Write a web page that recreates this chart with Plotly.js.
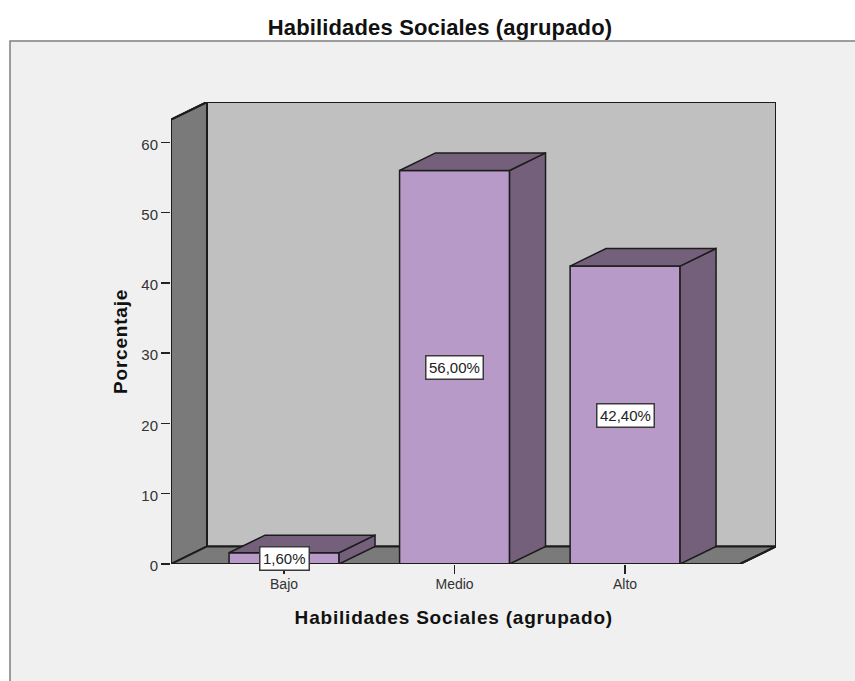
<!DOCTYPE html>
<html>
<head>
<meta charset="utf-8">
<script src="https://cdn.plot.ly/plotly-3.0.1.min.js"></script>
<style>
html,body{margin:0;padding:0;background:#fff;overflow:hidden}
.gtitle{letter-spacing:.15px}
.annotation[data-index="3"] text,.annotation[data-index="4"] text{letter-spacing:.8px}
</style>
</head>
<body>
<div id="chart" style="width:855px;height:681px"></div>
<script>
const categories = ['Bajo', 'Medio', 'Alto'];
const percentages = [1.6, 56.0, 42.4];
const valueLabels = ['1,60%', '56,00%', '42,40%'];
const yTicks = [0, 10, 20, 30, 40, 50, 60];

const chartTitle = 'Habilidades Sociales (agrupado)';
const xTitle = 'Habilidades Sociales (agrupado)';
const yTitle = 'Porcentaje';

// 3D look, in axis units
const barWidth = 0.645;
const depthX = 0.211;
const depthY = 2.5;
const xMin = -0.663, xMax = 2.885, yMax = 65.75;
const frontRight = xMax - depthX, wallTop = yMax - depthY;

const ink = '#1c1c1c';
const positions = categories.map((_, i) => i);

function poly(points) {
  return 'M' + points.map(p => p[0] + ',' + p[1]).join(' L') + ' Z';
}
function gapped(faces, k) {
  const out = [];
  faces.forEach(f => { f.forEach(p => out.push(p[k])); out.push(f[0][k]); out.push(null); });
  return out;
}
const sideFaces = positions.map((x, i) => {
  const r = x + barWidth / 2, v = percentages[i];
  return [[r, 0], [r + depthX, depthY], [r + depthX, v + depthY], [r, v]];
});
const topFaces = positions.map((x, i) => {
  const l = x - barWidth / 2, r = x + barWidth / 2, v = percentages[i];
  return [[l, v], [l + depthX, v + depthY], [r + depthX, v + depthY], [r, v]];
});
const outline = [[xMin, 0], [xMin, wallTop], [xMin + depthX, yMax], [xMax, yMax], [xMax, depthY], [frontRight, 0], [xMin, 0]];

const traces = [
  {
    type: 'bar', x: positions, y: percentages, width: barWidth,
    marker: {color: '#b89ac8', line: {color: ink, width: 1.5}},
    hoverinfo: 'skip', showlegend: false
  },
  {
    type: 'scatter', mode: 'lines', x: gapped(sideFaces, 0), y: gapped(sideFaces, 1),
    fill: 'toself', fillcolor: '#74607a', line: {color: ink, width: 1.5},
    cliponaxis: false, hoverinfo: 'skip', showlegend: false
  },
  {
    type: 'scatter', mode: 'lines', x: gapped(topFaces, 0), y: gapped(topFaces, 1),
    fill: 'toself', fillcolor: '#74607a', line: {color: ink, width: 1.5},
    cliponaxis: false, hoverinfo: 'skip', showlegend: false
  },
  {
    type: 'scatter', mode: 'lines', x: outline.map(p => p[0]), y: outline.map(p => p[1]),
    line: {color: ink, width: 2}, cliponaxis: false, hoverinfo: 'skip', showlegend: false
  }
];

// pixel frame of the picture, converted to paper units
const W = 855, H = 681, mL = 171, mR = 79, mT = 102, mB = 117;
const pw = W - mL - mR, ph = H - mT - mB;
const px = v => (v - mL) / pw;
const py = v => 1 - (v - mT) / ph;

const wallLine = {color: ink, width: 2};
const shapes = [
  {type: 'rect', xref: 'paper', yref: 'paper', x0: px(10), x1: px(860), y0: py(41), y1: py(690),
   fillcolor: '#f0f0f0', line: {width: 0}, layer: 'below'},
  {type: 'path', xref: 'paper', yref: 'paper', path: poly([[px(10), py(690)], [px(10), py(41)], [px(860), py(41)], [px(860), py(690)]]),
   line: {color: '#7f7f7f', width: 1.5}, layer: 'below'},
  {type: 'path', xref: 'x', yref: 'y', layer: 'below', fillcolor: '#c0c0c0', line: wallLine,
   path: poly([[xMin + depthX, depthY], [xMin + depthX, yMax], [xMax, yMax], [xMax, depthY]])},
  {type: 'path', xref: 'x', yref: 'y', layer: 'below', fillcolor: '#7a7a7a', line: wallLine,
   path: poly([[xMin, 0], [xMin, wallTop], [xMin + depthX, yMax], [xMin + depthX, depthY]])},
  {type: 'path', xref: 'x', yref: 'y', layer: 'below', fillcolor: '#7a7a7a', line: wallLine,
   path: poly([[xMin, 0], [xMin + depthX, depthY], [xMax, depthY], [frontRight, 0]])}
];

const valueAnnotations = positions.map((x, i) => ({
  x: x, y: percentages[i] / 2, xref: 'x', yref: 'y', text: valueLabels[i], showarrow: false,
  bgcolor: '#ffffff', bordercolor: '#3a3a3a', borderwidth: 1.5, borderpad: 2.5,
  font: {family: 'Liberation Sans, Arial, sans-serif', size: 15, color: '#222222'}
}));

const layout = {
  width: W, height: H, autosize: false,
  margin: {l: mL, r: mR, t: mT, b: mB, pad: 0},
  paper_bgcolor: '#ffffff', plot_bgcolor: 'rgba(0,0,0,0)',
  showlegend: false, barmode: 'overlay',
  title: {
    text: chartTitle, xref: 'paper', yref: 'container',
    x: px(440), xanchor: 'center', y: 1 - 27 / H, yanchor: 'middle',
    font: {family: 'Liberation Sans, Arial, sans-serif', size: 22, color: '#111111', weight: 'bold'}
  },
  xaxis: {
    range: [xMin, xMax], tickmode: 'array', tickvals: positions, ticktext: categories,
    ticks: 'outside', ticklen: 9, tickwidth: 1.5, tickcolor: '#222222',
    showgrid: false, zeroline: false, showline: false,
    ticklabelstandoff: -2,
    tickfont: {family: 'Liberation Sans, Arial, sans-serif', size: 14, color: '#333333'}
  },
  yaxis: {
    range: [0, yMax], tickmode: 'array', tickvals: yTicks, ticktext: yTicks.map(String),
    ticks: 'outside', ticklen: 9, tickwidth: 1.5, tickcolor: '#222222',
    showgrid: false, zeroline: false, showline: false,
    ticklabelshift: 2,
    tickfont: {family: 'Liberation Sans, Arial, sans-serif', size: 15, color: '#333333'}
  },
  shapes: shapes,
  annotations: valueAnnotations.concat([
    {xref: 'paper', yref: 'paper', x: px(454), y: py(617), xanchor: 'center', yanchor: 'middle',
     text: '<b>' + xTitle + '</b>', showarrow: false,
     font: {family: 'Liberation Sans, Arial, sans-serif', size: 19, color: '#111111'}},
    {xref: 'paper', yref: 'paper', x: px(120), y: py(342), xanchor: 'center', yanchor: 'middle',
     text: '<b>' + yTitle + '</b>', showarrow: false, textangle: -90,
     font: {family: 'Liberation Sans, Arial, sans-serif', size: 19, color: '#111111'}}
  ])
};

Plotly.newPlot('chart', traces, layout, {displayModeBar: false, staticPlot: true});
</script>
</body>
</html>
